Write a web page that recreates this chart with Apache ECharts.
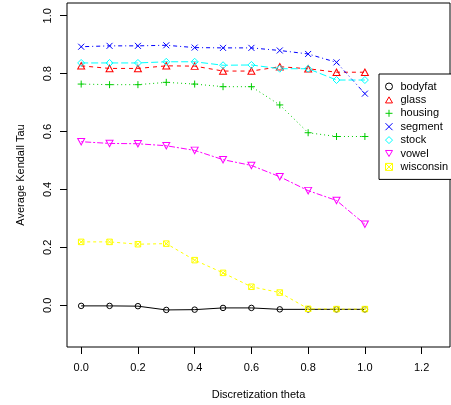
<!DOCTYPE html>
<html>
<head>
<meta charset="utf-8">
<script src="https://cdn.jsdelivr.net/npm/echarts@6/dist/echarts.min.js"></script>
<style>html,body{margin:0;padding:0;background:#fff}#c{width:451px;height:405px}</style>
</head>
<body>
<div id="c"></div>
<script>
var theta = [0.0, 0.1, 0.2, 0.3, 0.4, 0.5, 0.6, 0.7, 0.8, 0.9, 1.0];
var bodyfat   = [-0.002, -0.002, -0.003, -0.016, -0.015, -0.009, -0.009, -0.014, -0.014, -0.014, -0.014];
var glass     = [0.827, 0.818, 0.818, 0.827, 0.826, 0.809, 0.809, 0.824, 0.817, 0.805, 0.805];
var housing   = [0.764, 0.762, 0.762, 0.770, 0.764, 0.755, 0.755, 0.692, 0.596, 0.583, 0.583];
var segment   = [0.893, 0.896, 0.896, 0.898, 0.890, 0.889, 0.889, 0.880, 0.868, 0.839, 0.731];
var stock     = [0.837, 0.837, 0.837, 0.841, 0.841, 0.829, 0.830, 0.817, 0.817, 0.778, 0.778];
var vowel     = [0.565, 0.559, 0.558, 0.551, 0.535, 0.503, 0.483, 0.444, 0.396, 0.362, 0.280];
var wisconsin = [0.219, 0.219, 0.211, 0.213, 0.156, 0.112, 0.064, 0.044, -0.012, -0.013, -0.013];
var xTicks = [0.0, 0.2, 0.4, 0.6, 0.8, 1.0, 1.2];
var yTicks = [0.0, 0.2, 0.4, 0.6, 0.8, 1.0];
var seriesNames = ['bodyfat', 'glass', 'housing', 'segment', 'stock', 'vowel', 'wisconsin'];
var seriesValues = [bodyfat, glass, housing, segment, stock, vowel, wisconsin];

var colors = ['#000000', '#FF0000', '#00CD00', '#0000FF', '#00FFFF', '#FF00FF', '#FFFF00'];
var symbols = [
  'circle',
  'path://M5,0L10,8.66L0,8.66Z',
  'path://M5,0L5,10M0,5L10,5',
  'path://M0,0L10,10M10,0L0,10',
  'path://M5,0L10,5L5,10L0,5Z',
  'path://M0,0L10,0L5,8.66Z',
  'path://M0,0L10,0L10,10L0,10ZM0,0L10,10M10,0L0,10'
];
var symSizes = [5.5, [7, 6.5], 7, 6, 7, [7, 6.5], 5.5];
var dashes = ['solid', [4, 4], [1, 3], [1, 3, 4, 3], [7, 3], [2, 2, 6, 2], [3, 3]];

var font = 'Liberation Sans, Arial, Helvetica, sans-serif';
var series = seriesNames.map(function (n, i) {
  return {
    name: n,
    type: 'line',
    data: theta.map(function (t, j) { return [t, seriesValues[i][j]]; }),
    symbol: symbols[i],
    symbolSize: symSizes[i],
    showSymbol: true,
    animation: false,
    itemStyle: { color: 'rgba(0,0,0,0)', borderColor: colors[i], borderWidth: 1 },
    lineStyle: { color: colors[i], width: 1, type: dashes[i] },
    emphasis: { disabled: true }
  };
});

var chart = echarts.init(document.getElementById('c'), null, { renderer: 'canvas' });
chart.setOption({
  animation: false,
  backgroundColor: '#fff',
  grid: { left: 67, top: 3, right: 1, bottom: 58, show: true, borderColor: '#000', borderWidth: 1, backgroundColor: 'transparent' },
  xAxis: {
    type: 'value', min: -0.05, max: 1.3,
    axisLine: { show: false, onZero: false },
    splitLine: { show: false },
    axisTick: { show: true, length: 7, lineStyle: { color: '#000' }, customValues: xTicks },
    axisLabel: { customValues: xTicks, margin: 15, color: '#000', fontFamily: font, fontSize: 11,
      formatter: function (v) { return v.toFixed(1); } },
    name: 'Discretization theta', nameLocation: 'middle', nameGap: 42,
    nameTextStyle: { color: '#000', fontFamily: font, fontSize: 11 }
  },
  yAxis: {
    type: 'value', min: -0.144, max: 1.044,
    axisLine: { show: false, onZero: false },
    splitLine: { show: false },
    axisTick: { show: true, length: 7, lineStyle: { color: '#000' }, customValues: yTicks },
    axisLabel: { customValues: yTicks, margin: 14, rotate: 90, color: '#000', fontFamily: font, fontSize: 11,
      formatter: function (v) { return v.toFixed(1); } },
    name: 'Average Kendall Tau', nameLocation: 'middle', nameGap: 41, nameRotate: 90,
    nameTextStyle: { color: '#000', fontFamily: font, fontSize: 11 }
  },
  legend: {
    orient: 'vertical', left: 379, top: 74,
    padding: [6, 40, 6, 6], borderColor: '#000', borderWidth: 1, backgroundColor: '#fff',
    itemWidth: 7, itemHeight: 7, itemGap: 0.4,
    textStyle: { color: '#000', fontFamily: font, fontSize: 11, lineHeight: 13, padding: [0, 0, 0, 3] },
    selectedMode: false,
    data: seriesNames.map(function (n, i) {
      return { name: n, icon: symbols[i],
        itemStyle: { color: 'rgba(0,0,0,0)', borderColor: colors[i], borderWidth: 1 } };
    })
  },
  series: series
});
</script>
</body>
</html>
